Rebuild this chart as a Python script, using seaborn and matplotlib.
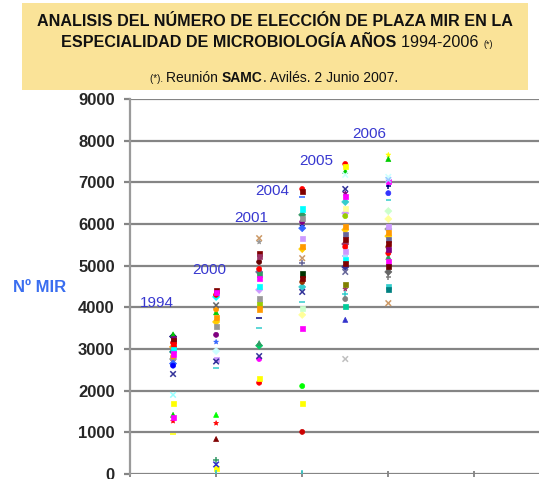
import matplotlib
matplotlib.use("Agg")
import matplotlib.pyplot as plt
from matplotlib.patches import Rectangle
import seaborn as sns
import pandas as pd

# ---------------- data ----------------
years = ["1994", "2000", "2001", "2004", "2005", "2006"]
vals_1994 = [3350, 3300, 3250, 3200, 3150, 3100, 3050, 2980, 2930, 2880, 2820,
             2760, 2710, 2650, 2600, 2400, 1900, 1700, 1420, 1350, 1270, 950]
vals_2000 = [4400, 4350, 4300, 4250, 4050, 3950, 3880, 3750, 3650, 3550, 3340,
             3170, 2950, 2750, 2700, 2550, 1420, 1220, 840, 330, 230, 140, 20]
vals_2001 = [5660, 5570, 5300, 5210, 5090, 4920, 4850, 4780, 4700, 4490, 4420,
             4200, 4060, 3960, 3740, 3500, 3140, 3080, 2830, 2760, 2300, 2190]
vals_2004 = [6840, 6780, 6650, 6360, 6220, 6140, 6050, 5950, 5900, 5660, 5470,
             5400, 5180, 5060, 4800, 4700, 4610, 4490, 4370, 4130, 3980, 3820,
             3500, 2110, 1700, 1010, 20]
vals_2005 = [7440, 7370, 7270, 7180, 6840, 6740, 6670, 6530, 6380, 6260, 6190,
             5930, 5860, 5740, 5620, 5520, 5450, 5330, 5230, 5140, 5060, 4970,
             4850, 4540, 4440, 4320, 4200, 4030, 3700, 2760]
vals_2006 = [7660, 7560, 7130, 7060, 7010, 6910, 6740, 6580, 6310, 6120, 5950,
             5880, 5790, 5710, 5620, 5540, 5450, 5380, 5300, 5210, 5090, 4970,
             4850, 4730, 4490, 4420, 4100]
y_ticks = [0, 1000, 2000, 3000, 4000, 5000, 6000, 7000, 8000, 9000]
year_label_y = [4100, 4900, 6150, 6800, 7500, 8150]
year_label_x = [0.23, 1.45, 2.42, 2.9, 3.93, 5.17]

# ---------------- styles ----------------
colors = {
    "1994": ['#00CC00', '#000080', '#800080', '#800000', '#FF0000', '#FF0000', '#FF9900', '#00FFFF',
             '#008080', '#FF00FF', '#FF9900', '#969696', '#800080', '#3366FF', '#0000FF', '#333399',
             '#99FFFF', '#FFFF00', '#00CC00', '#FF00FF', '#FF0000', '#FFFF00'],
    "2000": ['#800000', '#FF00FF', '#FF0000', '#00FFFF', '#666666', '#FF9900', '#00CC00', '#FF9900',
             '#FFCC00', '#969696', '#800080', '#3366FF', '#CCFFFF', '#CC99FF', '#333399', '#33CCCC',
             '#00FF00', '#FF0000', '#800000', '#339966', '#3333CC', '#FFFF00', '#33CCCC'],
    "2001": ['#CC9966', '#969696', '#800000', '#993366', '#660000', '#FF0000', '#666699', '#339966',
             '#FF00FF', '#00FFFF', '#CC99FF', '#999999', '#99CC00', '#FF9900', '#000080', '#33CCCC',
             '#339966', '#00CC66', '#333399', '#FF00FF', '#FFFF00', '#FF0000'],
    "2004": ['#FF0000', '#800000', '#3366FF', '#00FFFF', '#339966', '#969696', '#800080', '#000080',
             '#3366FF', '#CC99FF', '#FF9900', '#FFCC00', '#CC9966', '#666699', '#003300', '#800000',
             '#993300', '#33CCCC', '#333399', '#33CCCC', '#CCFFCC', '#FFFF99', '#FF00FF', '#00FF00',
             '#FFFF00', '#CC0000', '#33CCCC'],
    "2005": ['#FF0000', '#FFFF00', '#00CC00', '#CCFFFF', '#333399', '#800080', '#FF00FF', '#33CCCC',
             '#FFFF99', '#CC99FF', '#99CC00', '#FF9900', '#FFCC00', '#666699', '#800000', '#993366',
             '#FF0000', '#CC99FF', '#99CCFF', '#00FFFF', '#800000', '#333399', '#666699', '#808000',
             '#993366', '#33CCCC', '#808080', '#00CC99', '#3333CC', '#C0C0C0'],
    "2006": ['#FFFF00', '#00CC00', '#CCFFFF', '#99CCFF', '#FF00FF', '#000080', '#3333FF', '#33CCCC',
             '#CCFFCC', '#FFFF99', '#CC99FF', '#969696', '#FF9900', '#FFCC00', '#666699', '#800000',
             '#993300', '#800080', '#FF0000', '#339966', '#FF00FF', '#660000', '#666666', '#808080',
             '#33CCCC', '#008080', '#CC9966'],
}
markers = {
    "1994": ['^', 'D', 's', 's', 'o', 's', 'D', 's', 'D', 's', 'o', 'D', '*', 'D', 'o', 'x', 'x', 's', '^', 's', '*', '_'],
    "2000": ['s', 's', 'o', 'D', 'x', 'o', '^', 's', 'D', 's', 'o', '*', 'D', 's', 'x', '_', '^', '*', '^', '+', 'x', 's', '|'],
    "2001": ['x', '*', 's', 's', 'o', 'o', 'D', 's', 's', 's', 'D', 's', 's', 's', '_', '_', '^', 'D', 'x', 'o', 's', 'o'],
    "2004": ['o', 's', '_', 's', 'D', 's', 'o', '*', 'D', 's', 's', 'D', 'x', '+', 's', 's', 'o', 'D', 'x', '_', 's', 'D', 's', 'o', 's', 'o', '|'],
    "2005": ['o', 's', '^', 'x', 'x', '*', 's', 'D', 's', 'D', 'o', 's', 'D', 's', 's', 'D', 'o', 's', '_', 's', 's', 'D', 'x', 's', '*', '+', 'o', 's', '^', 'x'],
    "2006": ['*', '^', 'x', 'x', 's', '+', 'o', '_', 'D', 'D', 's', 'D', 's', 'D', 's', 's', 'o', 's', 'o', '^', 's', 's', 'D', '+', 's', 's', 'x'],
}

series = {"1994": vals_1994, "2000": vals_2000, "2001": vals_2001,
          "2004": vals_2004, "2005": vals_2005, "2006": vals_2006}

rows = []
for i, yr in enumerate(years):
    for j, v in enumerate(series[yr]):
        rows.append({"year": yr, "x": i + 1, "value": v,
                     "color": colors[yr][j], "marker": markers[yr][j]})
df = pd.DataFrame(rows)

# ---------------- figure ----------------
sns.set_style("white")
plt.rcParams["font.family"] = ["Liberation Sans", "DejaVu Sans"]

W, H = 539, 479
fig = plt.figure(figsize=(W / 100, H / 100), dpi=100)

# title box
fig.patches.append(Rectangle((22 / W, 1 - 90 / H), (528 - 22) / W, (90 - 3) / H,
                             transform=fig.transFigure, facecolor="#FAE398",
                             edgecolor="none", zorder=0))

ax = fig.add_axes([130 / W, 5 / H, (539 - 130) / W, (474 - 99) / H])
ax.set_facecolor("white")

palette = {c: c for c in df["color"].unique()}
line_art = {"x", "+", "_", "|"}
for m, sub in df.groupby("marker"):
    if m in line_art:
        sns.scatterplot(data=sub, x="x", y="value", hue="color", palette=palette,
                        marker=m, s=16, linewidth=1.1, legend=False, ax=ax, zorder=3)
    else:
        sns.scatterplot(data=sub, x="x", y="value", hue="color", palette=palette,
                        marker=m, s=13, edgecolor="face", linewidth=0.5,
                        legend=False, ax=ax, zorder=3)

ax.set_xlim(0, 9.5)
ax.set_ylim(0, 9000)
ax.set_yticks(y_ticks)
ax.set_yticklabels([str(t) for t in y_ticks], fontsize=12, fontweight="bold")
ax.set_xticks([0, 2, 4, 6, 8])
ax.set_xticklabels([])
ax.set_xlabel("")
ax.set_ylabel("")
ax.grid(axis="y", color="#858585", linewidth=1.6, zorder=1)
ax.grid(axis="x", visible=False)
ax.set_axisbelow(True)
for s in ["top", "right", "bottom"]:
    ax.spines[s].set_visible(False)
ax.spines["left"].set_color("#9A9A9A")
ax.spines["left"].set_linewidth(1.6)
ax.tick_params(axis="y", length=4, width=1.6, color="#858585", pad=7, left=True)
ax.tick_params(axis="x", length=4, width=1.2, color="#777777", direction="inout", bottom=True)

for yr, lx, ly in zip(years, year_label_x, year_label_y):
    ax.text(lx, ly, yr, color="#3838D0", fontsize=11, ha="left", va="center", zorder=4)

fig.text(40 / W, 1 - 287 / H, "Nº MIR", color="#3A6EF0", fontsize=12,
         fontweight="bold", ha="center", va="center")


def rich_line(pieces, xc_px, y_px):
    r = fig.canvas.get_renderer()
    texts = []
    for s, kw in pieces:
        texts.append(fig.text(0, 1 - y_px / H, s, ha="left", va="baseline", **kw))
    widths = [t.get_window_extent(r).width for t in texts]
    total = sum(widths)
    x = xc_px - total / 2
    for t, w in zip(texts, widths):
        t.set_x(x / W)
        x += w


rich_line([("ANALISIS DEL NÚMERO DE ELECCIÓN DE PLAZA MIR EN LA",
            dict(fontsize=11.6, fontweight="bold", color="#111111"))], 275, 26)
rich_line([("ESPECIALIDAD DE MICROBIOLOGÍA AÑOS ", dict(fontsize=11.6, fontweight="bold", color="#111111")),
           ("1994-2006 ", dict(fontsize=11.6, color="#111111")),
           ("(*)", dict(fontsize=6.5, color="#111111"))], 277, 47)
rich_line([("(*). ", dict(fontsize=7, color="#111111")),
           ("Reunión ", dict(fontsize=10, color="#111111")),
           ("SAMC", dict(fontsize=10, fontweight="bold", color="#111111")),
           (". Avilés. 2 Junio 2007.", dict(fontsize=10, color="#111111"))], 274, 82)

fig.savefig("out.png", dpi=100)
